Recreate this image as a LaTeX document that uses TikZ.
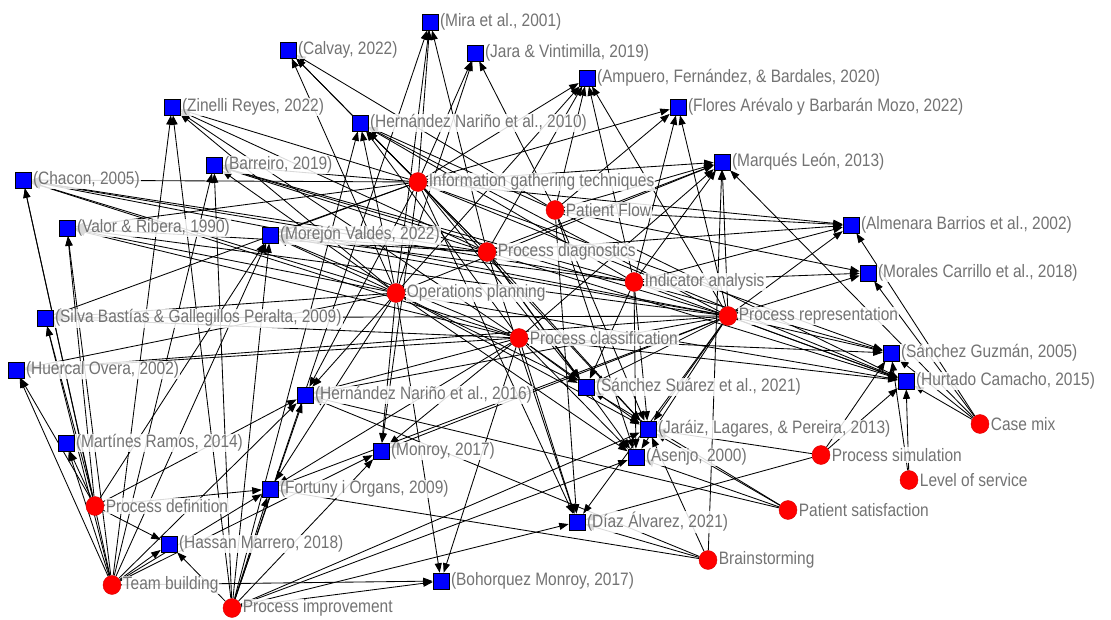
\documentclass[tikz,border=0pt]{standalone}
\usepackage{fontspec}
\setmainfont{Liberation Sans}[FakeStretch=0.86]
\usetikzlibrary{arrows.meta,shapes.geometric}
\pgfdeclarelayer{bg}
\pgfsetlayers{bg,main}
\definecolor{lblgray}{RGB}{115,115,115}
\definecolor{refblue}{RGB}{0,0,255}
\definecolor{conred}{RGB}{255,0,0}
\newcommand\RefNode[4]{\node[refbox] (#1) at (#2,#3) {}; \node[lbl] (#1-l) at ([xshift=0.5pt]#1.east) {#4};}
\newcommand\ConNode[4]{\node[condot] (#1) at (#2,#3) {}; \node[lbl] (#1-l) at ([xshift=0.5pt]#1.east) {#4};}
\begin{document}
\begin{tikzpicture}[x=1pt,y=-1pt,
 refbox/.style={rectangle, draw=black, line width=0.6pt, fill=refblue, minimum size=16pt, inner sep=0pt},
 condot/.style={ellipse, fill=conred, draw=conred!85!black, line width=0.4pt, minimum width=18pt, minimum height=19pt, inner sep=0pt},
 lbl/.style={anchor=west, text=lblgray, font=\fontsize{18}{19}\selectfont, fill=white, fill opacity=0.85, text opacity=1, inner sep=1pt},
 edge/.style={line width=0.85pt, -{Triangle[length=9.5pt,width=7pt]}}
]
\useasboundingbox (0,0) rectangle (1111,619);
\begin{pgfonlayer}{bg}
\fill[white] (0,0) rectangle (1111,619);
\end{pgfonlayer}
% references
\RefNode{mira}{430}{22}{(Mira et al., 2001)}
\RefNode{calvay}{288}{50}{(Calvay, 2022)}
\RefNode{jara}{475}{53}{(Jara \& Vintimilla, 2019)}
\RefNode{ampuero}{587}{78}{(Ampuero, Fernández, \& Bardales, 2020)}
\RefNode{zinelli}{172}{107}{(Zinelli Reyes, 2022)}
\RefNode{flores}{678}{107}{(Flores Arévalo y Barbarán Mozo, 2022)}
\RefNode{hn10}{360}{123}{(Hernández Nariño et al., 2010)}
\RefNode{marques}{722}{162}{(Marqués León, 2013)}
\RefNode{barreiro}{214}{165}{(Barreiro, 2019)}
\RefNode{chacon}{23}{180}{(Chacon, 2005)}
\RefNode{almenara}{851}{225}{(Almenara Barrios et al., 2002)}
\RefNode{valor}{67}{228}{(Valor \& Ribera, 1990)}
\RefNode{morejon}{270}{235}{(Morejón Valdés, 2022)}
\RefNode{morales}{868}{273}{(Morales Carrillo et al., 2018)}
\RefNode{silva}{45}{318}{(Silva Bastías \& Gallegillos Peralta, 2009)}
\RefNode{sguzman}{891}{353}{(Sánchez Guzmán, 2005)}
\RefNode{huercal}{16}{370}{(Huercal Overa, 2002)}
\RefNode{hurtado}{906}{381}{(Hurtado Camacho, 2015)}
\RefNode{ssuarez}{586}{387}{(Sánchez Suárez et al., 2021)}
\RefNode{hn16}{305}{395}{(Hernández Nariño et al., 2016)}
\RefNode{jaraiz}{648}{429}{(Jaráiz, Lagares, \& Pereira, 2013)}
\RefNode{martines}{66}{443}{(Martínes Ramos, 2014)}
\RefNode{monroy}{381}{451}{(Monroy, 2017)}
\RefNode{asenjo}{636}{457}{(Asenjo, 2000)}
\RefNode{fortuny}{270}{489}{(Fortuny i Organs, 2009)}
\RefNode{diaz}{577}{522}{(Díaz Álvarez, 2021)}
\RefNode{hassan}{169}{544}{(Hassan Marrero, 2018)}
\RefNode{bohorquez}{441}{581}{(Bohorquez Monroy, 2017)}
% concepts
\ConNode{ig}{418}{182}{Information gathering techniques}
\ConNode{pf}{555}{210}{Patient Flow}
\ConNode{pd}{487}{252}{Process diagnostics}
\ConNode{ia}{634}{282}{Indicator analysis}
\ConNode{op}{396}{293}{Operations planning}
\ConNode{pr}{728}{316}{Process representation}
\ConNode{pc}{519}{338}{Process classification}
\ConNode{cm}{980}{424}{Case mix}
\ConNode{ps}{821}{455}{Process simulation}
\ConNode{ls}{909}{480}{Level of service}
\ConNode{pdef}{95}{506}{Process definition}
\ConNode{psat}{788}{510}{Patient satisfaction}
\ConNode{bs}{708}{560}{Brainstorming}
\ConNode{tb}{112}{585}{Team building}
\ConNode{pi}{232}{608}{Process improvement}
% connectors
\begin{pgfonlayer}{bg}
\foreach \s/\t in {
 ig/mira, ig/calvay, ig/jara, ig/hn10, ig/zinelli, ig/barreiro, ig/chacon, ig/valor, ig/morejon, ig/ampuero, ig/flores, ig/marques, ig/almenara, ig/hurtado, ig/sguzman, ig/ssuarez, ig/jaraiz, ig/hn16, ig/silva, ig/diaz, ig/monroy,
 pf/ampuero, pf/jara, pf/hn10, pf/marques, pf/flores, pf/almenara, pf/hurtado, pf/jaraiz, pf/diaz, pf/calvay, pf/asenjo, pf/morales,
 pd/hn10, pd/calvay, pd/zinelli, pd/barreiro, pd/chacon, pd/valor, pd/morejon, pd/ampuero, pd/marques, pd/almenara, pd/ssuarez, pd/jaraiz, pd/asenjo, pd/diaz, pd/hurtado, pd/mira,
 ia/morales, ia/almenara, ia/marques, ia/flores, ia/ampuero, ia/hn10, ia/ssuarez, ia/asenjo, ia/jaraiz, ia/hurtado, ia/sguzman, ia/morejon, ia/barreiro, ia/chacon,
 op/mira, op/calvay, op/hn10, op/barreiro, op/zinelli, op/morejon, op/valor, op/chacon, op/silva, op/huercal, op/hn16, op/monroy, op/fortuny, op/ssuarez, op/jaraiz, op/asenjo, op/bohorquez, op/hurtado, op/marques, op/jara, op/ampuero,
 pr/sguzman, pr/hurtado, pr/morales, pr/almenara, pr/marques, pr/flores, pr/ampuero, pr/hn10, pr/morejon, pr/valor, pr/silva, pr/huercal, pr/hn16, pr/monroy, pr/ssuarez, pr/jaraiz, pr/asenjo, pr/diaz, pr/fortuny, pr/barreiro, pr/chacon,
 pc/ssuarez, pc/jaraiz, pc/asenjo, pc/diaz, pc/hurtado, pc/sguzman, pc/morejon, pc/valor, pc/silva, pc/huercal, pc/hn16, pc/monroy, pc/fortuny, pc/bohorquez, pc/hn10, pc/chacon, pc/marques, pc/zinelli,
 cm/sguzman, cm/hurtado, cm/almenara, cm/morales, cm/marques,
 ps/diaz, ps/sguzman, ps/hurtado, ps/jaraiz,
 ls/sguzman, ls/hurtado,
 pdef/martines, pdef/hassan, pdef/huercal, pdef/silva, pdef/chacon, pdef/valor, pdef/fortuny, pdef/hn16, pdef/morejon,
 psat/asenjo, psat/jaraiz, psat/ssuarez, psat/hn16,
 bs/marques, bs/fortuny, bs/diaz, bs/jaraiz, bs/hn16,
 tb/martines, tb/huercal, tb/chacon, tb/silva, tb/valor, tb/hassan, tb/fortuny, tb/hn16, tb/monroy, tb/morejon, tb/barreiro, tb/zinelli, tb/bohorquez,
 pi/hassan, pi/fortuny, pi/hn16, pi/monroy, pi/bohorquez, pi/asenjo, pi/jaraiz, pi/morejon, pi/barreiro, pi/zinelli, pi/hn10, pi/mira, pi/diaz}
 \draw[edge] (\s) -- (\t);
\end{pgfonlayer}
\end{tikzpicture}
\end{document}
